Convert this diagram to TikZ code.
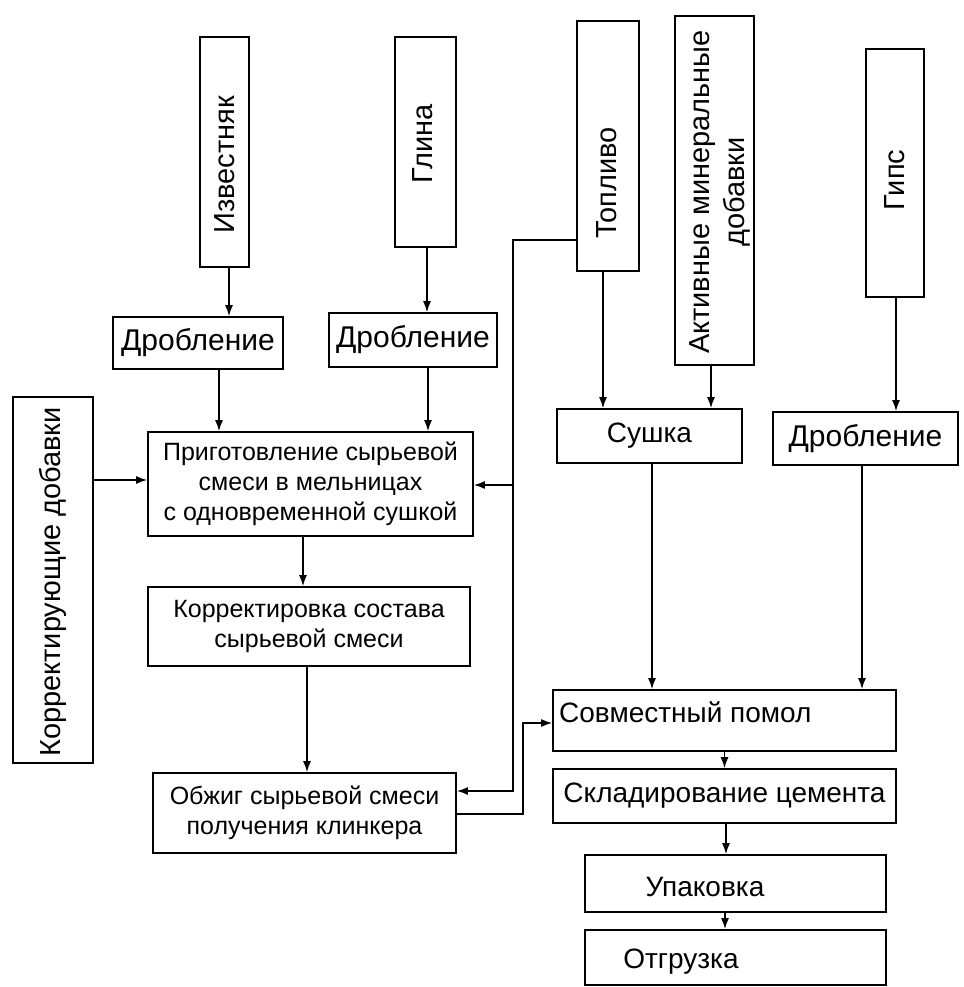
\documentclass[tikz,border=0pt]{standalone}
\usepackage{fontspec}
\setmainfont{Liberation Sans}
\usetikzlibrary{arrows.meta,positioning}

\begin{document}
\begin{tikzpicture}[x=1pt,y=-1pt,% pixel grid, y runs downwards
    every node/.style={
      align=center,   % so that "\\" breaks lines
      inner sep=0pt
    },
    box/.style={rectangle,draw=black,line width=1.8pt},
    vtxt/.style={rotate=90,font=\fontsize{29}{35}\selectfont},
    crushtxt/.style={font=\fontsize{30}{32}\selectfont},
    bigtxt/.style={font=\fontsize{28}{32}\selectfont},
    midtxt/.style={font=\fontsize{25}{30}\selectfont},
    every edge/.style={draw,line width=1.4pt},
    >={Latex[length=11pt,width=8pt]}
  ]
  \useasboundingbox (0,0) rectangle (963,987);

  % raw materials (upright boxes)
  \node[box,minimum width=49pt,minimum height=230pt](izv) at (224.5,152){};
  \node[vtxt](izvT) at (225,165){Известняк};
  \node[box,minimum width=61pt,minimum height=210pt](gli) at (425.5,142){};
  \node[vtxt](gliT) at (423,144){Глина};
  \node[box,minimum width=62pt,minimum height=250pt](top) at (608,146){};
  \node[vtxt](topT) at (607,183){Топливо};
  \node[box,minimum width=79pt,minimum height=349pt](akt) at (714.5,190.5){};
  \node[vtxt](aktT) at (720,192){Активные минеральные\\добавки};
  \node[box,minimum width=58pt,minimum height=248pt](gip) at (895,173){};
  \node[vtxt](gipT) at (895,180){Гипс};
  \node[box,minimum width=80pt,minimum height=366pt](kor) at (53,580){};
  \node[vtxt](korT) at (53,582){Корректирующие добавки};

  % processing steps
  \node[box,crushtxt,minimum width=170pt,minimum height=52pt](dr1) at (198,343){Дробление};
  \node[box,crushtxt,minimum width=168pt,minimum height=54pt](dr2) at (413,340){Дробление};
  \node[box,bigtxt,minimum width=185pt,minimum height=54pt](sus) at (649.5,436){Сушка};
  \node[box,crushtxt,minimum width=185pt,minimum height=53pt](dr3) at (865.5,438.5){Дробление};
  \node[box,midtxt,minimum width=325pt,minimum height=104pt](pri) at (310.5,484){Приготовление сырьевой\\смеси в мельницах\\с одновременной сушкой};
  \node[box,midtxt,minimum width=322pt,minimum height=79pt](kts) at (309,626.5){Корректировка состава\\сырьевой смеси};
  \node[box,midtxt,minimum width=303pt,minimum height=80pt](obj) at (304.5,813){Обжиг сырьевой смеси\\получения клинкера};
  \node[box,minimum width=343pt,minimum height=61pt](sov) at (724.5,720.5){};
  \node[bigtxt,anchor=west](sovT) at (559,712){Совместный помол};
  \node[box,bigtxt,minimum width=343pt,minimum height=54pt](skl) at (724.5,796){Складирование цемента};
  \node[box,minimum width=301pt,minimum height=57pt](upa) at (735.5,883.5){};
  \node[bigtxt](upaT) at (705,887){Упаковка};
  \node[box,minimum width=301pt,minimum height=55pt](otg) at (735.5,957.5){};
  \node[bigtxt](otgT) at (681,962){Отгрузка};

  \coordinate (fuel) at (513,485);
  \coordinate (mill) at (523,760);

  \path[->]
    ([xshift=4.5pt]izv.south) edge ([xshift=4.5pt]izv.south |- dr1.north)
    ([xshift=1.5pt]gli.south) edge ([xshift=1.5pt]gli.south |- dr2.north)
    ([xshift=21pt]dr1.south) edge ([xshift=21pt]dr1.south |- pri.north)
    ([xshift=15pt]dr2.south) edge ([xshift=15pt]dr2.south |- pri.north)
    ([xshift=-5pt]top.south) edge ([xshift=-5pt]top.south |- sus.north)
    ([xshift=-3.5pt]akt.south) edge ([xshift=-3.5pt]akt.south |- sus.north)
    ([xshift=1pt]gip.south) edge ([xshift=1pt]gip.south |- dr3.north)
    ([yshift=4pt]kor.east |- pri.west) edge ([yshift=4pt]pri.west)
    ([xshift=-7.5pt]pri.south) edge ([xshift=-7.5pt]pri.south |- kts.north)
    ([xshift=-2pt]kts.south) edge ([xshift=-2pt]kts.south |- obj.north)
    ([xshift=2.5pt]sus.south) edge ([xshift=2.5pt]sus.south |- sov.north)
    ([xshift=-3.5pt]dr3.south) edge ([xshift=-3.5pt]dr3.south |- sov.north)
    (sov.south) edge (skl.north)
    ([xshift=1.5pt]skl.south) edge ([xshift=1.5pt]skl.south |- upa.north)
    ([xshift=-10.5pt]upa.south) edge ([xshift=-10.5pt]upa.south |- otg.north)
    (fuel) edge (fuel -| pri.east)
    ;
  % fuel line to the mill and the kiln, clinker to the cement mill
  \draw[line width=1.4pt,->] ([yshift=-94pt]top.west) -| (fuel) |- ([yshift=22pt]obj.east);
  \draw[line width=1.4pt,->] ([yshift=-1pt]obj.east) -| (mill) |- ([yshift=-2.5pt]sov.west);
\end{tikzpicture}
\end{document}
